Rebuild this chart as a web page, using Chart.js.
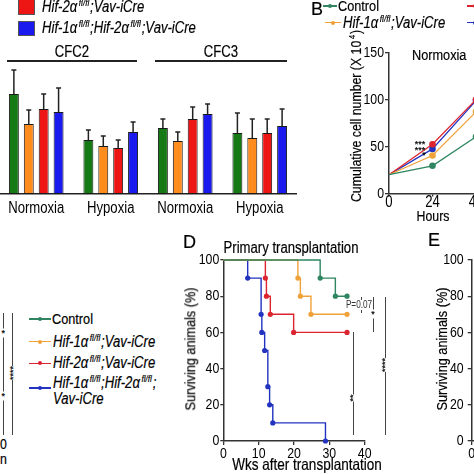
<!DOCTYPE html>
<html><head><meta charset="utf-8">
<script src="https://cdn.jsdelivr.net/npm/chart.js@4.4.1/dist/chart.umd.min.js"></script>
<style>
html,body{margin:0;padding:0;background:#fff;width:474px;height:474px;overflow:hidden;}
#wrap{position:relative;width:474px;height:474px;overflow:hidden;font-family:"Liberation Sans",Arial,sans-serif;color:#000;}
#wrap canvas{position:absolute;}
.t{position:absolute;white-space:nowrap;line-height:1;-webkit-text-stroke:0.2px #000;}
.t sup{font-size:0.62em;vertical-align:0;position:relative;top:-0.6em;margin-left:2px;margin-right:1px;line-height:0;}
.ln{position:absolute;}
</style></head>
<body><div id="wrap">
<canvas id="cA" width="300" height="240" style="left:-3px;top:0px"></canvas>
<canvas id="cB" width="158" height="200" style="left:330px;top:30px"></canvas>
<canvas id="cD" width="220" height="234" style="left:170px;top:240px"></canvas>
<canvas id="cE" width="200" height="234" style="left:420px;top:240px"></canvas>
</div>
<script>
// ---------- data ----------
const barCategories = ['Normoxia', 'Hypoxia', 'Normoxia', 'Hypoxia'];
const cfcControl    = [50, 27, 33, 30.5];
const cfcHif1       = [35, 24, 26.5, 28];
const cfcHif2       = [42.5, 23, 37.5, 30.5];
const cfcDKO        = [41, 31, 40, 34];
const cfcControlErr = [12, 5, 4.5, 10];
const cfcHif1Err    = [7, 5, 4.5, 9.5];
const cfcHif2Err    = [7.5, 4, 6, 7];
const cfcDKOErr     = [12, 5, 5, 8.5];

const hours         = [0, 24, 48];
const growthControl = [20, 29.5, 60.5];
const growthHif1    = [20, 40.5, 87];
const growthHif2    = [20, 52.5, 100];
const growthDKO     = [20, 47.5, 99];
const growthTicks   = [0, 50, 100, 150];

const survControlWeeks = [0, 27.4, 31.7, 35];
const survControlPct   = [100, 90, 80, 80];
const survHif1Weeks    = [0, 21.1, 21.8, 24.8, 35];
const survHif1Pct      = [100, 90, 80, 70, 70];
const survHif2Weeks    = [0, 11.9, 12.2, 13.3, 19.9, 35];
const survHif2Pct      = [100, 90, 80, 70, 60, 60];
const survDKOWeeks     = [0, 6.9, 10.7, 10.9, 11.7, 12.6, 13.1, 14.0, 28.9];
const survDKOPct       = [100, 90, 70, 60, 50, 30, 20, 10, 0];
const weekTicks        = [0, 10, 20, 30, 40];
const pctTicks         = [0, 20, 40, 60, 80, 100];

// ---------- style ----------
const FN = '"Liberation Sans",Arial,sans-serif';
const SX = 0.82; // horizontal compression of the lettering in the source figure
Chart.defaults.font.family = FN;
Chart.defaults.color = '#000';
const barCol = ['#157a15', '#ff8c1c', '#ee1515', '#1a1aee'];
const lnCol  = ['#2e8560', '#f0a23a', '#dc2430', '#2233c0'];

// narrow lettering for Chart.js tick labels
const narrowText = {
  id: 'narrowText',
  beforeDraw(chart) {
    const ctx = chart.ctx;
    if (ctx._origFill) return;
    const orig = ctx.fillText;
    ctx._origFill = orig;
    ctx.fillText = function (t, x, y, mw) { this.save(); this.translate(x, y); this.scale(SX, 1); orig.call(this, t, 0, 0); this.restore(); };
  },
  afterDraw(chart) { const ctx = chart.ctx; if (ctx._origFill) { ctx.fillText = ctx._origFill; delete ctx._origFill; } }
};

const W = document.getElementById('wrap');
function T(html, x, y, o = {}) {
  const d = document.createElement('div');
  d.className = 't'; d.innerHTML = html;
  d.style.left = x + 'px'; d.style.top = y + 'px';
  d.style.fontSize = (o.fs || 15) + 'px';
  if (o.it) d.style.fontStyle = 'italic';
  if (o.bg) d.style.background = '#fff';
  if (o.color) { d.style.color = o.color; d.style.webkitTextStroke = '0'; }
  const al = o.al || 'l';
  let tr = al === 'c' ? 'translate(-50%,-50%)' : al === 'r' ? 'translate(-100%,-50%)' : 'translate(0,-50%)';
  d.style.transformOrigin = al === 'c' ? '50% 50%' : al === 'r' ? '100% 50%' : '0 50%';
  if (o.rot) tr += ' rotate(-90deg)';
  if (!o.noSq) tr += ' scaleX(' + SX + ')';
  d.style.transform = tr;
  W.appendChild(d); return d;
}
function L(x, y, w, h, c) {
  const d = document.createElement('div'); d.className = 'ln';
  d.style.left = x + 'px'; d.style.top = y + 'px'; d.style.width = w + 'px'; d.style.height = h + 'px';
  d.style.background = c || '#333'; W.appendChild(d); return d;
}
function sample(x1, x2, y, c) {
  L(x1, y - 0.75, x2 - x1, 1.5, c);
  const dot = L((x1 + x2) / 2 - 2, y - 2, 4, 4, c); dot.style.borderRadius = '50%';
}
const g1 = 'Hif-1α<sup>fl/fl</sup>;Vav-iCre';
const g2 = 'Hif-2α<sup>fl/fl</sup>;Vav-iCre';

// ---------- panel A (bars) ----------
const errs = [cfcControlErr, cfcHif1Err, cfcHif2Err, cfcDKOErr];
const errPlugin = {
  id: 'errbars',
  afterDatasetsDraw(chart) {
    const ctx = chart.ctx, ys = chart.scales.y;
    chart.data.datasets.forEach((ds, i) => {
      chart.getDatasetMeta(i).data.forEach((bar, j) => {
        const top = ys.getPixelForValue(ds.data[j] + errs[i][j]);
        ctx.save(); ctx.strokeStyle = '#222'; ctx.lineWidth = 1.5;
        ctx.beginPath(); ctx.moveTo(bar.x, bar.y); ctx.lineTo(bar.x, top);
        ctx.moveTo(bar.x - 2.5, top); ctx.lineTo(bar.x + 2.5, top); ctx.stroke(); ctx.restore();
      });
    });
  }
};
new Chart(document.getElementById('cA'), {
  type: 'bar',
  data: { labels: barCategories, datasets: [cfcControl, cfcHif1, cfcHif2, cfcDKO].map((d, i) => ({
    data: d, backgroundColor: barCol[i], borderColor: '#1a1a1a', borderWidth: 1, borderSkipped: false,
    barPercentage: 0.667, categoryPercentage: 0.8 })) },
  options: {
    responsive: false, animation: false, devicePixelRatio: 1, events: [],
    layout: { padding: { top: 54, left: 0, right: 0, bottom: 0 } },
    plugins: { legend: { display: false }, tooltip: { enabled: false } },
    scales: {
      x: { grid: { display: false, drawTicks: false }, border: { display: true, color: '#222', width: 1.5 },
           ticks: { font: { size: 16 }, color: '#000', padding: 5, maxRotation: 0, autoSkip: false }, afterFit(s) { s.height = 46; } },
      y: { display: false, min: 0, max: 70 }
    }
  },
  plugins: [errPlugin, narrowText]
});

// panel A annotations
L(18, -1, 15, 14, barCol[2]).style.border = '1px solid #555';
L(18, 21, 15, 13, barCol[3]).style.border = '1px solid #555';
T(g2, 42, 7, { it: 1, fs: 16 });
T('Hif-1α<sup>fl/fl</sup>;' + g2, 42, 28, { it: 1, fs: 16 });
T('CFC2', 72, 52, { al: 'c', fs: 16 });
T('CFC3', 221, 52, { al: 'c', fs: 16 });
L(7, 60, 130, 2, '#222');
L(155, 60, 132, 2, '#222');

// ---------- panel B (growth) ----------
function axis(size, tl, pad) {
  return { grid: { display: true, drawOnChartArea: false, drawTicks: true, tickLength: tl, color: '#333', lineWidth: 1.3 },
           border: { display: true, color: '#333', width: 1.5 },
           ticks: { color: '#000', font: { size: size }, padding: pad, maxRotation: 0, minRotation: 0, autoSkip: false } };
}
const growth = [growthControl, growthHif1, growthHif2, growthDKO];
const bx = axis(16, 3, -4), by = axis(15, 4, 1);
new Chart(document.getElementById('cB'), {
  type: 'line',
  data: { datasets: growth.map((g, i) => ({
    data: hours.map((h, k) => ({ x: h, y: g[k] })), borderColor: lnCol[i], backgroundColor: lnCol[i],
    borderWidth: 1.3, pointRadius: hours.map((h, k) => k === 0 ? 0 : 3.3), pointBorderWidth: 0, clip: false })) },
  options: {
    responsive: false, animation: false, devicePixelRatio: 1, events: [],
    layout: { padding: { top: 22.7, left: 0, right: 12, bottom: 0 } },
    plugins: { legend: { display: false }, tooltip: { enabled: false } },
    scales: {
      x: Object.assign(bx, { type: 'linear', min: 0, max: 48, afterFit(s) { s.height = 36.5; },
        afterBuildTicks(s) { s.ticks = hours.map(v => ({ value: v })); } }),
      y: Object.assign(by, { min: 0, max: 150, afterFit(s) { s.width = 59; },
        afterBuildTicks(s) { s.ticks = growthTicks.map(v => ({ value: v })); } })
    }
  },
  plugins: [narrowText]
});
T('B', 311, 9, { fs: 18, noSq: 1 });
sample(323, 337, 6, lnCol[0]); T('Control', 338, 6, { fs: 15.5 });
sample(325, 341, 22.7, lnCol[1]); T(g1, 343, 22.7, { it: 1, fs: 16 });
sample(467, 482, 6, lnCol[2]);
sample(467, 482, 22.7, lnCol[3]);
T('Cumulative cell number (X 10<sup>4</sup>)', 355, 115.5, { al: 'c', rot: 1, fs: 15 });
T('Normoxia', 412, 55, { fs: 15.5 });
T('Hours', 433, 215, { al: 'c', fs: 15 });
T('***', 420, 144, { al: 'c', fs: 9, noSq: 1 });
T('***', 420, 149.5, { al: 'c', fs: 9, noSq: 1 });
T('*', 424, 155, { al: 'c', fs: 9, noSq: 1 });

// ---------- panel C (legend + sig) ----------
L(2.6, 313, 1.4, 122, '#444'); L(12, 313, 1.4, 122, '#444');
T('*', 3.3, 333, { al: 'c', fs: 9, bg: 1, noSq: 1 });
T('*', 3.3, 396, { al: 'c', fs: 9, bg: 1, noSq: 1 });
T('****', 12.7, 373, { al: 'c', fs: 9, bg: 1, rot: 1, noSq: 1 });
T('0', 0, 443, { fs: 15 });
T('n', 0, 458, { fs: 15 });
const cy = [319, 341.7, 363.3, 388];
cy.forEach((y, i) => sample(29, 51, y, lnCol[i]));
T('Control', 52, 319, { fs: 15.5 });
T(g1, 53, 341.7, { it: 1, fs: 16 });
T(g2, 53, 363.3, { it: 1, fs: 16 });
T('Hif-1α<sup>fl/fl</sup>;Hif-2α<sup>fl/fl</sup>;', 53, 383, { it: 1, fs: 16 });
T('Vav-iCre', 53, 398.5, { it: 1, fs: 16 });

// ---------- panel D (survival) ----------
const surv = [[survControlWeeks, survControlPct], [survHif1Weeks, survHif1Pct], [survHif2Weeks, survHif2Pct], [survDKOWeeks, survDKOPct]];
const dx = axis(15, 4, 0), dy = axis(15, 3, 1);
new Chart(document.getElementById('cD'), {
  type: 'line',
  data: { datasets: surv.map((s, i) => ({
    data: s[0].map((w, k) => ({ x: w, y: s[1][k] })), borderColor: lnCol[i], backgroundColor: lnCol[i],
    borderWidth: 1.4, stepped: 'before', pointRadius: s[0].map((w, k) => k === 0 ? 0 : 2.6), pointBorderWidth: 0, clip: false })) },
  options: {
    responsive: false, animation: false, devicePixelRatio: 1, events: [],
    layout: { padding: { top: 20, left: 0, right: 25.3, bottom: 0 } },
    plugins: { legend: { display: false }, tooltip: { enabled: false } },
    scales: {
      x: Object.assign(dx, { type: 'linear', min: 0, max: 40, afterFit(s) { s.height = 33; },
        afterBuildTicks(s) { s.ticks = weekTicks.map(v => ({ value: v })); } }),
      y: Object.assign(dy, { min: 0, max: 100, afterFit(s) { s.width = 53.3; },
        afterBuildTicks(s) { s.ticks = pctTicks.map(v => ({ value: v })); } })
    }
  },
  plugins: [narrowText]
});
T('D', 183, 241.5, { fs: 18, noSq: 1 });
T('Primary transplantation', 291, 248, { al: 'c', fs: 16 });
T('Surviving animals (%)', 190, 348.5, { al: 'c', rot: 1, fs: 15.5 });
T('Wks after transplantation', 307, 464, { al: 'c', fs: 16.5 });
// significance
L(360.5, 296.7, 1.2, 16.6, '#444');
T('P=0.07', 358.7, 305, { al: 'c', fs: 10, color: '#333', bg: 1 });
L(372.5, 296.7, 1.2, 35, '#444'); T('*', 373, 314, { al: 'c', fs: 9, bg: 1, noSq: 1 });
L(352.8, 331.7, 1.2, 103.5, '#444'); T('**', 353.3, 398, { al: 'c', fs: 9, bg: 1, rot: 1, noSq: 1 });
L(384.5, 296.7, 1.2, 138.5, '#444'); T('****', 385, 365, { al: 'c', fs: 9, bg: 1, rot: 1, noSq: 1 });

// ---------- panel E (axis only visible) ----------
const ex = axis(15, 4, 0), ey = axis(15, 4, 4);
new Chart(document.getElementById('cE'), {
  type: 'line',
  data: { datasets: [] },
  options: {
    responsive: false, animation: false, devicePixelRatio: 1, events: [],
    layout: { padding: { top: 20, left: 0, right: 8, bottom: 0 } },
    plugins: { legend: { display: false }, tooltip: { enabled: false } },
    scales: {
      x: Object.assign(ex, { type: 'linear', min: 0, max: 40, afterFit(s) { s.height = 33; },
        afterBuildTicks(s) { s.ticks = weekTicks.map(v => ({ value: v })); } }),
      y: Object.assign(ey, { min: 0, max: 100, afterFit(s) { s.width = 51.7; },
        afterBuildTicks(s) { s.ticks = pctTicks.map(v => ({ value: v })); } })
    }
  },
  plugins: [narrowText]
});
T('E', 428, 240, { fs: 18, noSq: 1 });
T('Surviving animals (%)', 442, 348.5, { al: 'c', rot: 1, fs: 15.5 });
</script></body></html>
